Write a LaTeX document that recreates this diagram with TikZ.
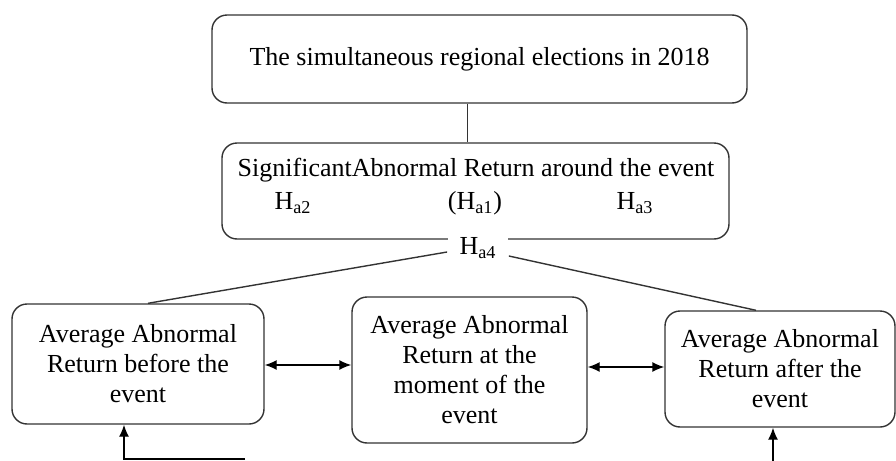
\documentclass[tikz,border=0pt]{standalone}
\usepackage{fontspec}
\setmainfont{Liberation Serif}
\usetikzlibrary{arrows.meta, positioning, calc}
\tikzset{
    eventbox/.style={rectangle, rounded corners=7.5pt, draw=black!80, line width=0.7pt, fill=white, text centered},
    avgbox/.style={rectangle, rounded corners=7.5pt, draw=black!80, line width=0.7pt, fill=white, align=center, font=\fontsize{13}{15}\selectfont},
    hyp/.style={inner sep=1pt, fill=white, font=\fontsize{13}{15}\selectfont},
    link/.style={line width=0.7pt, draw=black!80},
    arrow/.style={line width=0.7pt, -{Latex[length=6pt, width=5pt]}},
    dblarrow/.style={line width=0.7pt, {Latex[length=6pt, width=5pt]}-{Latex[length=6pt, width=5pt]}}
}

\begin{document}
\begin{tikzpicture}[x=0.5pt, y=-0.5pt]
    \useasboundingbox (0,0) rectangle (896,461);

    % --- NODES ---
    \node (elections) [eventbox, minimum width=267.5pt, minimum height=44pt, font=\fontsize{13}{15}\selectfont] at (479.5,59) {The simultaneous regional elections in 2018};
    \node (signif) [eventbox, minimum width=253.5pt, minimum height=48pt] at (475.5,191) {};
    \node (signif_text) [hyp, fill=none] at (476,170) {SignificantAbnormal Return around the event};
    \node (ha2) [hyp, fill=none] at (293,203) {H\textsubscript{a2}};
    \node (ha1) [hyp, fill=none] at (475,203) {(H\textsubscript{a1})};
    \node (ha3) [hyp, fill=none] at (635,203) {H\textsubscript{a3}};
    \node (ha4) [hyp, inner xsep=6pt] at (478,248) {H\textsubscript{a4}};

    \node (before) [avgbox, minimum width=126pt, minimum height=60pt] at (138,364) {Average Abnormal\\Return before the\\event};
    \node (moment) [avgbox, minimum width=117.5pt, minimum height=73pt] at (469.5,370) {Average Abnormal\\Return at the\\moment of the\\event};
    \node (after) [avgbox, minimum width=115pt, minimum height=58pt] at (780,369) {Average Abnormal\\Return after the\\event};

    \coordinate (feed_before) at (245,459);
    \coordinate (feed_after) at (773,461);

    % --- LINES ---
    \draw [link] ([xshift=-6pt]elections.south) -- ([xshift=-6pt]elections.south |- signif.north);
    \draw [link] ([yshift=-2pt]ha4.west) -- ([xshift=5pt]before.north);
    \draw [link] ([yshift=-4pt]ha4.east) -- ([xshift=-12pt]after.north);

    % --- ARROWS ---
    \draw [dblarrow] (before.east |- 0,365) -- (moment.west |- 0,365);
    \draw [dblarrow] (moment.east |- 0,367) -- (after.west |- 0,367);
    \draw [arrow] (feed_before) -| ([xshift=-7pt]before.south);
    \draw [arrow] (feed_after) -- (feed_after |- after.south);

\end{tikzpicture}
\end{document}
